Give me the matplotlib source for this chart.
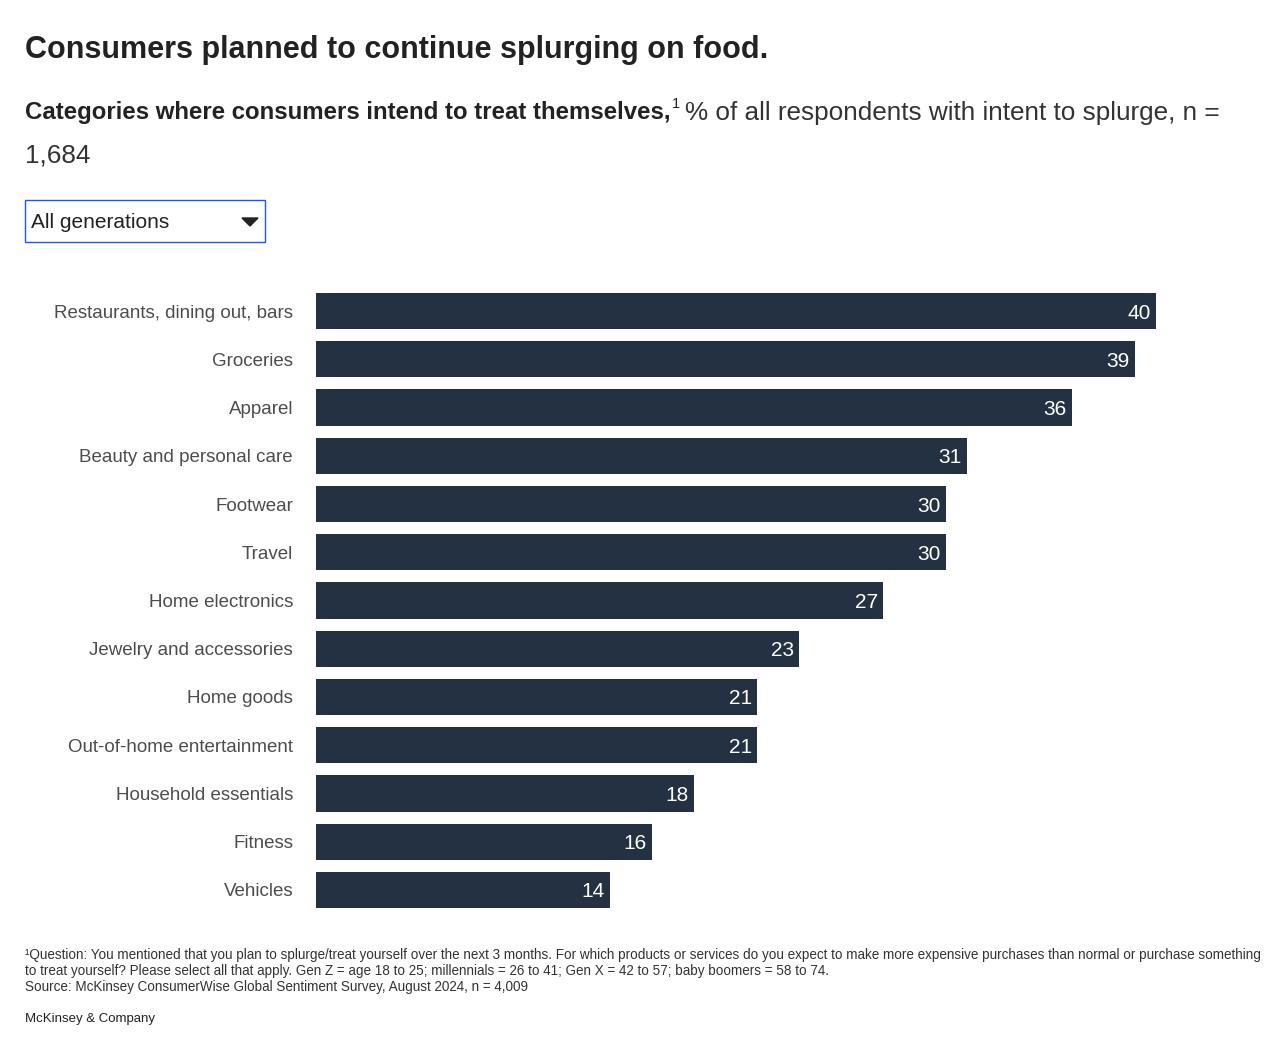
import matplotlib
matplotlib.use("Agg")
import matplotlib.pyplot as plt
from matplotlib.patches import Rectangle, Polygon

plt.rcParams['font.family'] = ['Liberation Sans', 'DejaVu Sans']

categories = ["Restaurants, dining out, bars", "Groceries", "Apparel",
              "Beauty and personal care", "Footwear", "Travel",
              "Home electronics", "Jewelry and accessories", "Home goods",
              "Out-of-home entertainment", "Household essentials", "Fitness",
              "Vehicles"]
values = [40, 39, 36, 31, 30, 30, 27, 23, 21, 21, 18, 16, 14]

W, H = 1278, 1038
fig = plt.figure(figsize=(W / 100, H / 100), dpi=100)

def fx(px):
    return px / W

def fy(py):
    return 1 - py / H

bar_color = "#233142"
text_dark = "#222222"
label_grey = "#4d4d4d"

# title + subtitle
fig.text(fx(25), fy(50), "Consumers planned to continue splurging on food.",
         fontsize=22, fontweight="bold", color=text_dark, va="center")

renderer = fig.canvas.get_renderer()
t1 = fig.text(fx(25), fy(113), "Categories where consumers intend to treat themselves,",
              fontsize=17.3, fontweight="bold", color=text_dark, va="center")
bb = t1.get_window_extent(renderer)
t2 = fig.text(bb.x1 / W + 0.001, fy(104), "1", fontsize=10.5, color=text_dark, va="center")
bb2 = t2.get_window_extent(renderer)
fig.text(bb2.x1 / W + 0.004, fy(113), "% of all respondents with intent to splurge, n =",
         fontsize=18.8, color="#333333", va="center")
fig.text(fx(25), fy(155), "1,684", fontsize=18.8, color="#333333", va="center")

# dropdown box
fig.patches.append(Rectangle((fx(25), fy(242)), fx(240), 42 / H, transform=fig.transFigure,
                             fill=False, edgecolor="#2251ff", linewidth=1.0))
fig.text(fx(31), fy(222), "All generations", fontsize=15, color=text_dark, va="center")
fig.patches.append(Polygon([[fx(242), fy(218)], [fx(258), fy(218)], [fx(250), fy(226)]],
                           closed=True, transform=fig.transFigure, color=text_dark))

# bars
ax = fig.add_axes([fx(316), fy(914), fx(924), (914 - 287) / H])
y = list(range(len(categories)))
ax.barh(y, values, height=0.75, color=bar_color)
ax.set_xlim(0, 44)
ax.set_ylim(len(categories) - 0.5, -0.5)
for spine in ax.spines.values():
    spine.set_visible(False)
ax.set_xticks([])
ax.set_yticks(y)
ax.set_yticklabels(categories, fontsize=13.5, color=label_grey)
ax.tick_params(axis="y", length=0, pad=16.5)
for yi, v in zip(y, values):
    ax.text(v - 0.25, yi, str(v), ha="right", va="center_baseline", color="white", fontsize=15)

# footnotes
foot = ("\u00b9Question: You mentioned that you plan to splurge/treat yourself over the next 3 months. "
        "For which products or services do you expect to make more expensive purchases than normal or purchase something")
fs = 9.75
fig.text(fx(25), fy(955), foot, fontsize=fs, color="#333333", va="center")
fig.text(fx(25), fy(971), "to treat yourself? Please select all that apply. Gen Z = age 18 to 25; "
         "millennials = 26 to 41; Gen X = 42 to 57; baby boomers = 58 to 74.",
         fontsize=fs, color="#333333", va="center")
fig.text(fx(25), fy(987), "Source: McKinsey ConsumerWise Global Sentiment Survey, August 2024, n = 4,009",
         fontsize=fs, color="#333333", va="center")
fig.text(fx(25), fy(1019), "McKinsey & Company", fontsize=9.5, color=text_dark, va="center")

fig.savefig("out.png", dpi=100)
